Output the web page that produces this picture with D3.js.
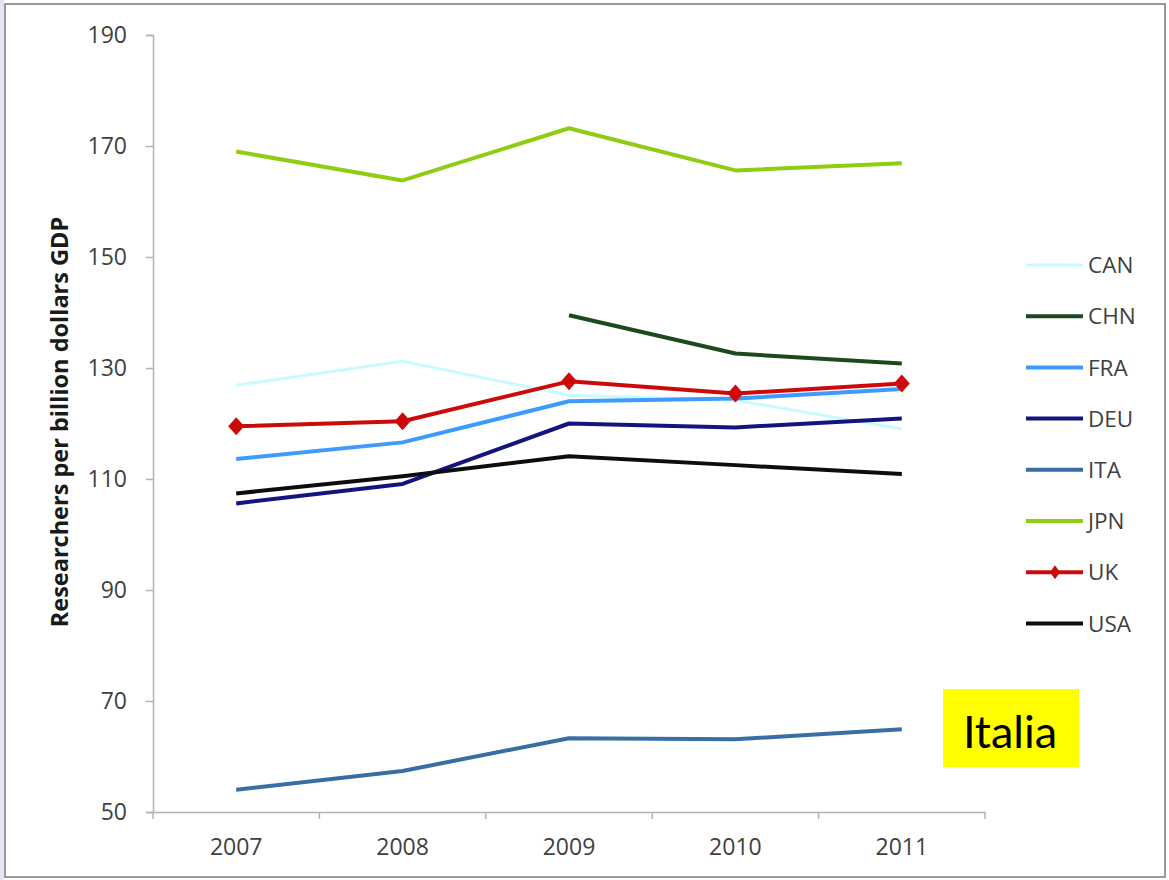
<!DOCTYPE html>
<html>
<head>
<meta charset="utf-8">
<script src="https://cdn.jsdelivr.net/npm/d3@7"></script>
<style>
  html, body { margin: 0; padding: 0; background: #fff; }
  svg { display: block; }
</style>
</head>
<body>
<svg id="chart" width="1169" height="880"></svg>
<script>
// Researchers per billion dollars of GDP, 2007–2011
const years = ["2007", "2008", "2009", "2010", "2011"];
const yTicks = [50, 70, 90, 110, 130, 150, 170, 190];

const CAN = [126.9, 131.2, 125.1, 124.2, 119.0];
const CHN = [null, null, 139.5, 132.6, 130.8];
const FRA = [113.6, 116.6, 124.0, 124.5, 126.2];
const DEU = [105.6, 109.1, 120.0, 119.3, 120.9];
const ITA = [54.0, 57.4, 63.3, 63.1, 64.9];
const JPN = [169.0, 163.8, 173.2, 165.6, 166.9];
const UK  = [119.5, 120.4, 127.6, 125.4, 127.2];
const USA = [107.4, 110.5, 114.1, 112.5, 110.9];

const seriesNames = ["CAN", "CHN", "FRA", "DEU", "ITA", "JPN", "UK", "USA"];
const seriesValues = [CAN, CHN, FRA, DEU, ITA, JPN, UK, USA];
const seriesColors = ["#c8fbff", "#1b4a1f", "#3d9bff", "#14147e", "#3a6da3", "#8fcc12", "#cc0a0a", "#0d0d0d"];
const seriesWidths = [3, 4, 4, 4, 4, 4, 4, 4];
const markerSeries = "UK";

const svg = d3.select("#chart");
const W = 1169, H = 880;
const labelFont = "'Open Sans', sans-serif";

// page backdrop and frame
svg.append("rect").attr("x", 0).attr("y", 0).attr("width", W).attr("height", H).attr("fill", "#fff");
svg.append("rect").attr("x", 0).attr("y", 0).attr("width", 4).attr("height", H).attr("fill", "#e3e7f1");
svg.append("rect")
  .attr("x", 5).attr("y", 4).attr("width", 1160).attr("height", 873)
  .attr("fill", "#fff").attr("stroke", "#9a9a9a").attr("stroke-width", 2);

const plot = { left: 153, right: 985, top: 35, bottom: 812 };

const x = d3.scaleBand().domain(years).range([plot.left, plot.right]);
const y = d3.scaleLinear().domain([50, 190]).range([plot.bottom, plot.top]);

// y axis
const yAxis = svg.append("g")
  .attr("transform", `translate(${plot.left},0)`)
  .call(d3.axisLeft(y).tickValues(yTicks).tickSize(7).tickPadding(19).tickFormat(d3.format("d")));
yAxis.select(".domain").attr("stroke", "#b3b3b3").attr("stroke-width", 1.5);
yAxis.selectAll(".tick line").attr("stroke", "#b3b3b3").attr("stroke-width", 1.5);
yAxis.selectAll(".tick text")
  .attr("fill", "#404040").attr("font-family", labelFont).attr("font-size", 23);

// x axis, ticks on category boundaries
const xAxis = svg.append("g")
  .attr("transform", `translate(0,${plot.bottom})`)
  .call(d3.axisBottom(x).tickSize(0).tickPadding(27));
xAxis.select(".domain").attr("stroke", "#b3b3b3").attr("stroke-width", 1.5);
xAxis.selectAll(".tick text")
  .attr("fill", "#404040").attr("font-family", labelFont).attr("font-size", 23);
const boundaries = years.map(d => x(d)).concat([x(years[years.length - 1]) + x.bandwidth()]);
xAxis.selectAll(".bound").data(boundaries).enter().append("line")
  .attr("x1", d => d).attr("x2", d => d).attr("y1", 0).attr("y2", 7)
  .attr("stroke", "#b3b3b3").attr("stroke-width", 1.5);

// axis title
svg.append("text")
  .attr("transform", `translate(68,422) rotate(-90)`)
  .attr("text-anchor", "middle")
  .attr("font-family", labelFont)
  .attr("font-weight", "bold")
  .attr("font-size", 23.5)
  .attr("fill", "#1a1a1a")
  .text("Researchers per billion dollars GDP");

// series lines
const cx = d => x(d) + x.bandwidth() / 2;
const line = d3.line()
  .defined(d => d.v != null)
  .x(d => cx(d.year))
  .y(d => y(d.v));

// diamond marker path, half-width w and half-height h
const diamondPath = (w, h) => `M0,${-h}L${w},0L0,${h}L${-w},0Z`;

seriesNames.forEach((name, i) => {
  const pts = years.map((yr, j) => ({ year: yr, v: seriesValues[i][j] }));
  svg.append("path")
    .datum(pts)
    .attr("fill", "none")
    .attr("stroke", seriesColors[i])
    .attr("stroke-width", seriesWidths[i])
    .attr("stroke-linejoin", "round")
    .attr("d", line);
  if (name === markerSeries) {
    svg.selectAll(".mk-" + name).data(pts.filter(p => p.v != null)).enter().append("path")
      .attr("d", diamondPath(8, 9))
      .attr("transform", p => `translate(${cx(p.year)},${y(p.v)})`)
      .attr("fill", seriesColors[i]);
  }
});

// legend
const legend = svg.append("g").attr("transform", "translate(1026,265)");
seriesNames.forEach((name, i) => {
  const g = legend.append("g").attr("transform", `translate(0,${i * 51.2})`);
  g.append("line").attr("x1", 0).attr("x2", 57).attr("y1", 0).attr("y2", 0)
    .attr("stroke", seriesColors[i]).attr("stroke-width", seriesWidths[i]);
  if (name === markerSeries) {
    g.append("path").attr("d", diamondPath(5, 7))
      .attr("transform", "translate(29,0)").attr("fill", seriesColors[i]);
  }
  g.append("text").attr("x", 62).attr("y", 0).attr("dy", "0.36em")
    .attr("font-family", labelFont).attr("font-size", 22.5)
    .attr("fill", "#404040").text(name);
});

// highlight note
svg.append("rect").attr("x", 943).attr("y", 689).attr("width", 136).attr("height", 78).attr("fill", "#ffff00");
svg.append("text").attr("x", 1010).attr("y", 748).attr("text-anchor", "middle")
  .attr("font-family", "Lato, 'Open Sans', sans-serif").attr("font-size", 45).attr("fill", "#000")
  .text("Italia");
</script>
</body>
</html>
